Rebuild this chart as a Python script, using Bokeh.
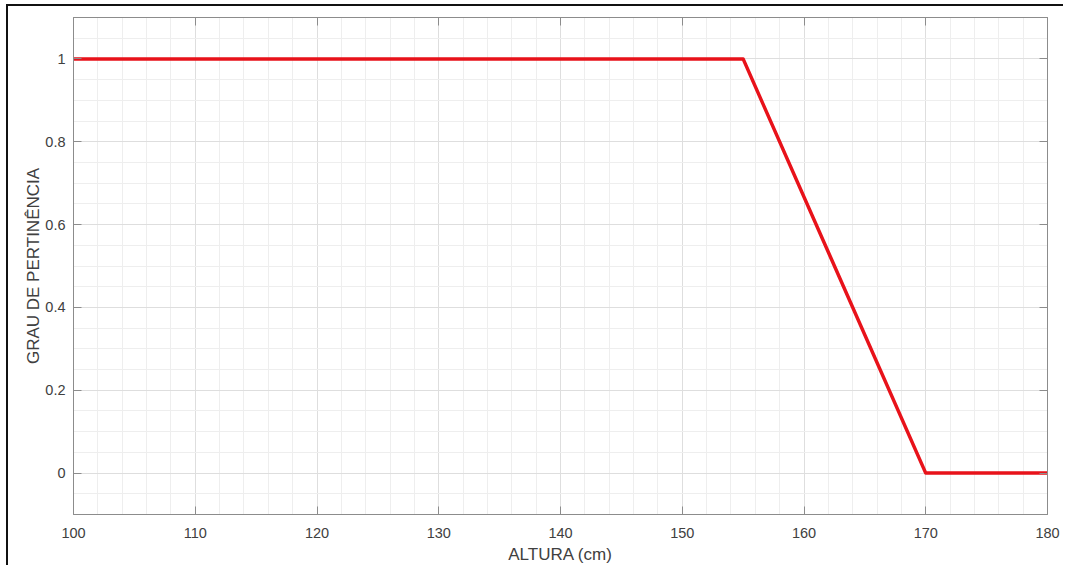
from bokeh.plotting import figure
from bokeh.models import Range1d, LinearAxis, SingleIntervalTicker, CustomJSTickFormatter
from bokeh.embed import file_html
from bokeh.resources import INLINE

# Data: trapezoidal membership function (height in cm -> membership grade)
altura = [100, 155, 170, 180]
grau = [1, 1, 0, 0]

x_ticks_interval = 10
y_ticks_interval = 0.2

FONT = "Liberation Sans"
AX_COLOR = "#8c8c8c"
LBL_COLOR = "#404040"

p = figure(width=1057, height=561, output_backend="svg", toolbar_location=None,
           x_range=Range1d(100, 180), y_range=Range1d(-0.1, 1.1),
           min_border_left=65, min_border_right=18, min_border_top=11, min_border_bottom=53,
           x_axis_label="ALTURA (cm)", y_axis_label="GRAU DE PERTINÊNCIA")
p.styles = {"border-top": "2px solid #111111", "border-left": "2px solid #111111",
            "margin-left": "6px", "margin-top": "4px"}
p.outline_line_color = AX_COLOR
p.outline_line_width = 1
p.background_fill_color = "white"
p.border_fill_color = "white"

xt = SingleIntervalTicker(interval=x_ticks_interval, num_minor_ticks=5)
yt = SingleIntervalTicker(interval=y_ticks_interval, num_minor_ticks=4)
p.xaxis.ticker = xt
p.yaxis.ticker = yt

for ax in (p.xaxis[0], p.yaxis[0]):
    ax.axis_line_color = AX_COLOR
    ax.major_tick_line_color = AX_COLOR
    ax.major_tick_in = 8
    ax.major_tick_out = 0
    ax.minor_tick_line_color = None
    ax.major_label_text_font = FONT
    ax.major_label_text_font_size = "14.5px"
    ax.major_label_text_color = LBL_COLOR
    ax.axis_label_text_font = FONT
    ax.axis_label_text_font_size = "17px"
    ax.axis_label_text_font_style = "normal"
    ax.axis_label_text_color = LBL_COLOR

p.xaxis.major_label_standoff = 9
p.xaxis.axis_label_standoff = 4
p.yaxis.major_label_standoff = 4
p.yaxis.axis_label_standoff = -1

empty = CustomJSTickFormatter(code="return '';")
# box axes on top and right with inward ticks, no labels
top = LinearAxis(ticker=xt, formatter=empty, axis_line_color=AX_COLOR,
                 major_tick_line_color=AX_COLOR, major_tick_in=8, major_tick_out=0,
                 minor_tick_line_color=None, major_label_standoff=0)
right = LinearAxis(ticker=yt, formatter=empty, axis_line_color=AX_COLOR,
                   major_tick_line_color=AX_COLOR, major_tick_in=8, major_tick_out=0,
                   minor_tick_line_color=None, major_label_standoff=0)
p.add_layout(top, "above")
p.add_layout(right, "right")

for g in (p.xgrid[0], p.ygrid[0]):
    g.grid_line_color = "#dedede"
    g.grid_line_width = 1
    g.minor_grid_line_color = "#eeeeee"
    g.minor_grid_line_width = 1

p.line(altura, grau, line_color="#e8121a", line_width=3.5, line_join="round")

open("out.html", "w").write(file_html(p, INLINE))
